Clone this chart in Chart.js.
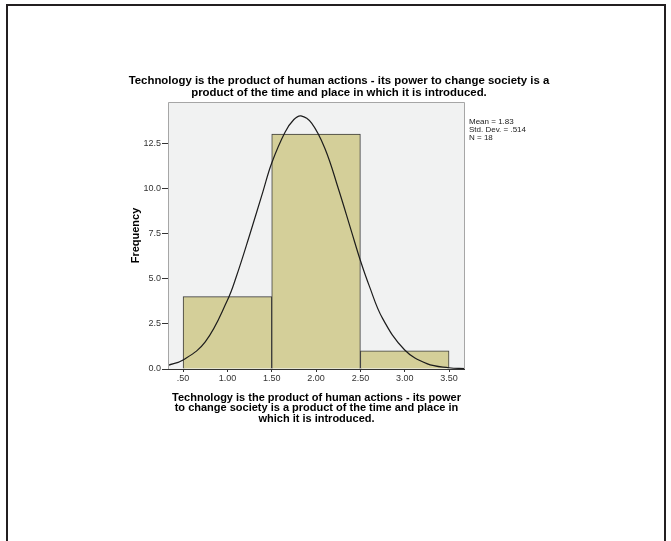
<!DOCTYPE html>
<html>
<head>
<meta charset="utf-8">
<script src="https://cdn.jsdelivr.net/npm/chart.js@4"></script>
<style>
  html, body { margin: 0; padding: 0; background: #fff; overflow: hidden; }
  #frame { position: absolute; left: 6px; top: 4px; width: 656px; height: 560px;
           border: 2px solid #231f20; border-bottom: none; }
  #wrap { position: absolute; left: 0; top: 0; width: 671px; height: 541px; }
</style>
</head>
<body>
<div id="frame"></div>
<div id="wrap"><canvas id="hist" width="671" height="541"></canvas></div>
<script>
// histogram bins (centres) and counts
const binCenters = [1.0, 2.0, 3.0];
const counts = [4, 13, 1];

// normal curve
const curveX = [0.33, 0.5, 0.75, 1.0, 1.1, 1.25, 1.4, 1.5, 1.65, 1.75, 1.83, 1.95, 2.1, 2.25, 2.4, 2.5, 2.6, 2.75, 3.0, 3.25, 3.5, 3.68];
const curveY = [0.2, 0.5, 1.5, 3.8, 5.1, 7.4, 9.8, 11.4, 13.1, 13.8, 14.0, 13.6, 12.2, 10.0, 7.6, 6.0, 4.6, 2.8, 1.05, 0.3, 0.07, 0.02];

const xTicks = [0.5, 1.0, 1.5, 2.0, 2.5, 3.0, 3.5];
const yTicks = [0, 2.5, 5, 7.5, 10, 12.5];

const titleLines = [
  "Technology is the product of human actions - its power to change society is a",
  "product of the time and place in which it is introduced."
];
const xTitleLines = [
  "Technology is the product of human actions - its power",
  "to change society is a product of the time and place in",
  "which it is introduced."
];
const statsLines = ["Mean = 1.83", "Std. Dev. = .514", "N = 18"];

const FONT = "Arial, 'Liberation Sans', sans-serif";

const decorPlugin = {
  id: "decor",
  beforeDatasetsDraw(chart) {
    const { ctx, chartArea: a } = chart;
    ctx.save();
    ctx.fillStyle = "#f1f2f2";
    ctx.fillRect(a.left, a.top, a.right - a.left, a.bottom - a.top);
    ctx.restore();
  },
  afterDraw(chart) {
    const { ctx, chartArea: a } = chart;
    ctx.save();
    ctx.strokeStyle = "#a6a6a6";
    ctx.lineWidth = 1;
    ctx.beginPath();
    ctx.moveTo(a.left + 0.5, a.bottom);
    ctx.lineTo(a.left + 0.5, a.top + 0.5);
    ctx.lineTo(a.right - 0.5, a.top + 0.5);
    ctx.lineTo(a.right - 0.5, a.bottom);
    ctx.stroke();
    ctx.strokeStyle = "#333";
    ctx.beginPath();
    ctx.moveTo(a.left, a.bottom + 0.5);
    ctx.lineTo(a.right, a.bottom + 0.5);
    ctx.stroke();

    ctx.fillStyle = "#000";
    ctx.textAlign = "center";
    ctx.textBaseline = "middle";
    ctx.font = "bold 11.4px " + FONT;
    titleLines.forEach((t, i) => ctx.fillText(t, 339, 81 + i * 11.5));

    ctx.fillStyle = "#222";
    ctx.textAlign = "left";
    ctx.font = "8px " + FONT;
    statsLines.forEach((t, i) => ctx.fillText(t, a.right + 4, 122 + i * 8));
    ctx.restore();
  }
};

new Chart(document.getElementById("hist"), {
  data: {
    datasets: [
      {
        type: "line",
        data: curveX.map((x, i) => ({ x: x, y: curveY[i] })),
        borderColor: "#1c1c1c",
        borderWidth: 1.2,
        pointRadius: 0,
        tension: 0.4,
        xAxisID: "x",
        order: 0
      },
      {
        type: "bar",
        data: binCenters.map((x, i) => ({ x: x, y: counts[i] })),
        backgroundColor: "#d4cf99",
        borderColor: "#3a3a3a",
        borderWidth: 1,
        barPercentage: 1,
        categoryPercentage: 1,
        grouped: false,
        xAxisID: "xb",
        order: 1
      }
    ]
  },
  options: {
    responsive: false,
    animation: false,
    layout: { padding: { left: 129, right: 206, top: 102, bottom: 117 } },
    plugins: { legend: { display: false }, tooltip: { enabled: false } },
    scales: {
      x: {
        type: "linear",
        min: 0.33,
        max: 3.68,
        offset: false,
        afterBuildTicks: s => { s.ticks = xTicks.map(v => ({ value: v })); },
        afterFit: s => { s.height = 55; },
        grid: { display: true, drawOnChartArea: false, drawTicks: true, tickLength: 3, color: "#333" },
        border: { display: false },
        ticks: {
          font: { family: FONT, size: 9 },
          color: "#333",
          padding: 1,
          maxRotation: 0,
          callback: v => v.toFixed(2).replace(/^0/, "")
        },
        title: {
          display: true,
          text: xTitleLines,
          font: { family: FONT, size: 11, weight: "bold", lineHeight: 0.95 },
          color: "#000",
          padding: { top: 4, bottom: 0 }
        }
      },
      xb: {
        type: "linear",
        display: false,
        offset: false,
        min: 0.33,
        max: 3.68,
        afterBuildTicks: s => { s.ticks = []; }
      },
      y: {
        min: 0,
        max: 14.77,
        afterBuildTicks: s => { s.ticks = yTicks.map(v => ({ value: v })); },
        afterFit: s => { s.width = 39; },
        grid: { display: true, drawOnChartArea: false, drawTicks: true, tickLength: 6, color: "#333" },
        border: { display: false },
        ticks: {
          font: { family: FONT, size: 9 },
          color: "#333",
          padding: 1,
          callback: v => v.toFixed(1)
        },
        title: {
          display: true,
          text: "Frequency",
          font: { family: FONT, size: 11, weight: "bold" },
          color: "#000",
          padding: { top: 0, bottom: 0 }
        }
      }
    }
  },
  plugins: [decorPlugin]
});
</script>
</body>
</html>
